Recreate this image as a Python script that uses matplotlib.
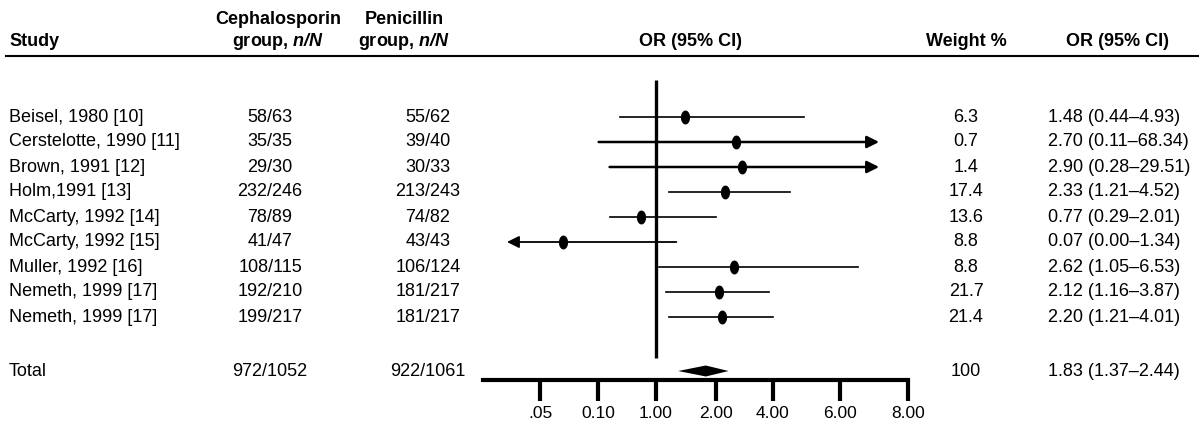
import numpy as np
import matplotlib
matplotlib.use('Agg')
from matplotlib import pyplot as plt
from matplotlib.path import Path
from matplotlib.transforms import blended_transform_factory

plt.rcParams['font.family'] = ['Liberation Sans', 'DejaVu Sans']
plt.rcParams['font.size'] = 13
plt.rcParams['mathtext.fontset'] = 'custom'
plt.rcParams['mathtext.rm'] = 'Liberation Sans'
plt.rcParams['mathtext.bf'] = 'Liberation Sans:bold'
plt.rcParams['mathtext.bfit'] = 'Liberation Sans:italic:bold'

# data
studies = ['Beisel, 1980 [10]', 'Cerstelotte, 1990 [11]', 'Brown, 1991 [12]',
           'Holm,1991 [13]', 'McCarty, 1992 [14]', 'McCarty, 1992 [15]',
           'Muller, 1992 [16]', 'Nemeth, 1999 [17]', 'Nemeth, 1999 [17]']
ceph = ['58/63', '35/35', '29/30', '232/246', '78/89', '41/47',
        '108/115', '192/210', '199/217']
pen = ['55/62', '39/40', '30/33', '213/243', '74/82', '43/43',
       '106/124', '181/217', '181/217']
weight = [6.3, 0.7, 1.4, 17.4, 13.6, 8.8, 8.8, 21.7, 21.4]
or_est = [1.48, 2.70, 2.90, 2.33, 0.77, 0.07, 2.62, 2.12, 2.20]
ci_lo = [0.44, 0.11, 0.28, 1.21, 0.29, 0.00, 1.05, 1.16, 1.21]
ci_hi = [4.93, 68.34, 29.51, 4.52, 2.01, 1.34, 6.53, 3.87, 4.01]

total_ceph = '972/1052'
total_pen = '922/1061'
total_weight = 100
total_or, total_lo, total_hi = 1.83, 1.37, 2.44

tick_vals = [0.05, 0.10, 1.00, 2.00, 4.00, 6.00, 8.00]
tick_labels = ['.05', '0.10', '1.00', '2.00', '4.00', '6.00', '8.00']

# hand drawn OR axis: piecewise linear between the printed ticks
knot_or = np.array([-0.05, 0.0, 0.05, 0.10, 1.0, 2.0, 4.0, 6.0, 8.0, 100.0])
knot_pos = np.array([-66, -33, 0, 58, 116, 176, 233, 300, 368, 1000], float)


def fwd(v):
    return np.interp(v, knot_or, knot_pos)


def inv(p):
    return np.interp(p, knot_pos, knot_or)


W, H = 1199, 426
fig = plt.figure(figsize=(W / 100, H / 100), dpi=100)
ax = fig.add_axes([483 / W, (H - 380) / H, 425 / W, 300 / H])
ax.set_xscale('function', functions=(fwd, inv))
ax.set_xlim(inv(-57), 8.0)
row_h = 25.0
ax.set_ylim((380 - 117) / row_h, (80 - 117) / row_h)

rows = np.arange(len(studies))
total_row = (371 - 117) / row_h

# reference line at OR = 1
ax.vlines(1.0, ax.get_ylim()[1], (358 - 117) / row_h, color='black', lw=2.4)

# study CIs and estimates
ell = np.linspace(0, 2 * np.pi, 40)
dot = Path(np.column_stack([0.62 * np.cos(ell), np.sin(ell)]))
arrow_cap = 7.15
for i in rows:
    lo, hi = ci_lo[i], ci_hi[i]
    if hi > ax.get_xlim()[1]:
        ax.annotate('', xy=(arrow_cap, i), xytext=(lo, i),
                    arrowprops=dict(arrowstyle='-|>', color='black', lw=1.8,
                                    mutation_scale=18, shrinkA=0, shrinkB=0))
    elif lo <= 0:
        ax.annotate('', xy=(lo, i), xytext=(hi, i),
                    arrowprops=dict(arrowstyle='-|>', color='black', lw=1.3,
                                    mutation_scale=18, shrinkA=0, shrinkB=0))
    else:
        ax.plot([lo, hi], [i, i], color='black', lw=1.2)
    ax.plot(or_est[i], i, marker=dot, ms=9, color='black', ls='none')

# pooled diamond
dh = 5.5 / row_h
ax.fill([total_lo, total_or, total_hi, total_or],
        [total_row, total_row - dh, total_row, total_row + dh],
        color='black', lw=0)

for s in ['left', 'top', 'right']:
    ax.spines[s].set_visible(False)
ax.spines['bottom'].set_linewidth(3)
ax.set_yticks([])
ax.set_xticks(tick_vals)
ax.set_xticklabels(tick_labels, fontsize=12.5)
ax.tick_params(axis='x', direction='out', length=15, width=3, pad=4)
ax.minorticks_off()
ax.set_facecolor('none')

# table text
tr = blended_transform_factory(fig.transFigure, ax.transData)
x_study, x_ceph, x_pen, x_wt, x_or = 9 / W, 270 / W, 428 / W, 966 / W, 1048 / W

for i in rows:
    ax.text(x_study, i, studies[i], transform=tr, ha='left', va='center')
    ax.text(x_ceph, i, ceph[i], transform=tr, ha='center', va='center')
    ax.text(x_pen, i, pen[i], transform=tr, ha='center', va='center')
    ax.text(x_wt, i, f'{weight[i]:g}', transform=tr, ha='center', va='center')
    ax.text(x_or, i, f'{or_est[i]:.2f} ({ci_lo[i]:.2f}\u2013{ci_hi[i]:.2f})',
            transform=tr, ha='left', va='center')

ax.text(x_study, total_row, 'Total', transform=tr, ha='left', va='center')
ax.text(x_ceph, total_row, total_ceph, transform=tr, ha='center', va='center')
ax.text(x_pen, total_row, total_pen, transform=tr, ha='center', va='center')
ax.text(x_wt, total_row, f'{total_weight:g}', transform=tr, ha='center', va='center')
ax.text(x_or, total_row, f'{total_or:.2f} ({total_lo:.2f}\u2013{total_hi:.2f})',
        transform=tr, ha='left', va='center')

# headers
y1 = (19 - 117) / row_h
y2 = (41 - 117) / row_h
hdr = dict(transform=tr, va='center', fontweight='bold')
ax.text(x_study, y2, 'Study', ha='left', **hdr)
ax.text(278 / W, y1, 'Cephalosporin', ha='center', **hdr)
ax.text(278 / W, y2, r'group, $\mathbfit{n/N}$', ha='center', **hdr)
ax.text(404 / W, y1, 'Penicillin', ha='center', **hdr)
ax.text(404 / W, y2, r'group, $\mathbfit{n/N}$', ha='center', **hdr)
ax.text(690 / W, y2, 'OR (95% CI)', ha='center', **hdr)
ax.text(x_wt, y2, 'Weight %', ha='center', **hdr)
ax.text(1118 / W, y2, 'OR (95% CI)', ha='center', **hdr)

fig.add_artist(plt.Line2D([6 / W, 1.0], [1 - 56 / H] * 2,
                          transform=fig.transFigure, color='black', lw=1.5))

fig.savefig('out.png', dpi=100)
